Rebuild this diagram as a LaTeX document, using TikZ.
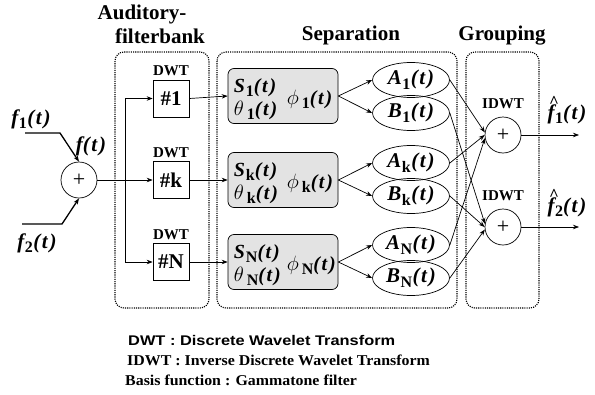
\documentclass[tikz,border=0pt]{standalone}
\usepackage{fontspec}
\setmainfont{Liberation Serif}
\newfontfamily\legsans{Liberation Sans}[FakeStretch=1.17]
\newfontfamily\legserif{Liberation Serif}[FakeStretch=1.06]
\usetikzlibrary{arrows.meta,calc,shapes.geometric}

\newcommand\bi[1]{{\bfseries\itshape #1}}
\newcommand\sub[1]{\raisebox{-0.22em}{\fontsize{16}{16}\selectfont\bfseries\upshape #1}}
\newcommand\argt{\bi{(\kern1.5pt t\kern2pt)}}
\newcommand\sig[2]{\bi{#1}\kern0.5pt\sub{#2}\kern0.5pt\argt}
\newcommand\fhat{\makebox[0pt][l]{\kern1.5pt\raisebox{0.55em}{\fontsize{17}{17}\selectfont\bfseries\textasciicircum}}\bi{f}}

\begin{document}
\begin{tikzpicture}[x=1pt,y=-1pt,
  ln/.style={line width=0.7pt},
  arr/.style={ln,-{Stealth[length=6pt,width=4.5pt]}},
  grp/.style={draw,line width=1.1pt,dash pattern=on 1.1pt off 1.1pt,rounded corners=9pt},
  title/.style={font=\fontsize{21}{24}\selectfont\bfseries,anchor=base,inner sep=0},
  dwtlbl/.style={font=\fontsize{15}{18}\selectfont\bfseries,anchor=base,inner sep=0},
  dwtbox/.style={draw,ln,minimum width=36pt,minimum height=37pt,inner sep=0,font=\fontsize{21}{24}\selectfont\bfseries},
  sbox/.style={draw,ln,fill=black!11,rounded corners=6pt,minimum width=110pt,minimum height=55pt},
  ell/.style={draw,ln,ellipse,minimum width=77pt,minimum height=35pt,inner sep=0,font=\fontsize{21}{24}\selectfont},
  sumc/.style={draw,ln,circle,minimum size=36pt,inner sep=0,font=\fontsize{22}{24}\selectfont},
  sigl/.style={font=\fontsize{21}{24}\selectfont,inner sep=0},
  sin/.style={font=\fontsize{20}{24}\selectfont,inner sep=0,anchor=base west},
  leg/.style={anchor=base west,inner sep=0}]
\useasboundingbox (0,0) rectangle (595,394);

% group frames
\draw[grp] (115,52) rectangle (209,308);
\draw[grp] (217,52) rectangle (457,308);
\draw[grp] (466,52) rectangle (539,308);

% titles
\node[title] (t1) at (142,19) {Auditory-};
\node[title] (t2) at (160,43) {filterbank};
\node[title] (t3) at (351,40) {Separation};
\node[title] (t4) at (502,40) {Grouping};

% input sum
\node[sumc] (sum) at (79,180) {+};
\coordinate (f1a) at (25,133);
\coordinate (f1b) at (60,133);
\coordinate (f2a) at (22,224);
\coordinate (f2b) at (62,224);
\draw[arr,line width=1.3pt] (f1a) -- (f1b) -- (sum.north);
\draw[arr,line width=1.3pt] (f2a) -- (f2b) -- (sum.south);
\node[sigl] (lf1) at (31,119) {\sig{f}{1}};
\node[sigl] (lf2) at (37,243) {\sig{f}{2}};
\node[sigl] (lf) at (91,146) {\bi{f}\argt};

% DWT boxes
\node[dwtbox] (d1) at (171,98.5) {\#1};
\node[dwtbox] (dk) at (171,180) {\#k};
\node[dwtbox] (dN) at (171,262) {\#N};
\node[dwtlbl] (dl1) at ($(d1.north)+(0,-4)$) {DWT};
\node[dwtlbl] (dlk) at ($(dk.north)+(0,-4)$) {DWT};
\node[dwtlbl] (dlN) at ($(dN.north)+(0,-4)$) {DWT};

% trunk
\coordinate (tj) at (125,180);
\coordinate (tt) at (125,98.5);
\coordinate (tb) at (125,262);
\draw[ln] (sum.east) -- (tj);
\draw[ln] (tt) -- (tb);
\draw[arr] (tt) -- (d1.west);
\draw[arr] (tj) -- (dk.west);
\draw[arr] (tb) -- (dN.west);

% separation boxes
\node[sbox] (s1) at (283,96) {};
\node[sbox] (sk) at (283,180) {};
\node[sbox] (sN) at (283,262) {};
\foreach \n/\s in {s1/1,sk/k,sN/N}{
  \node[sin] (\n a) at ($(\n.west)+(6,-4)$) {\bi{S}\kern1pt\sub{\s}\argt};
  \node[sin] (\n b) at ($(\n.west)+(6,19)$) {$\theta$\kern3pt\sub{\s}\argt};
  \node[sin] (\n c) at ($(\n.west)+(59,8)$) {$\phi$\kern3pt\sub{\s}\argt};
}
\draw[arr] (d1.east) -- (s1.west);
\draw[arr] (dk.east) -- (sk.west);
\draw[arr] (dN.east) -- (sN.west);

% ellipses
\node[ell] (A1) at (411,80) {\sig{A}{1}};
\node[ell] (B1) at (411,113) {\sig{B}{1}};
\node[ell] (Ak) at (411,163) {\sig{A}{k}};
\node[ell] (Bk) at (411,196) {\sig{B}{k}};
\node[ell] (AN) at (411,245) {\sig{A}{N}};
\node[ell] (BN) at (411,278) {\sig{B}{N}};
\draw[arr] (s1.east) -- (A1.west);
\draw[arr] (s1.east) -- (B1.west);
\draw[arr] (sk.east) -- (Ak.west);
\draw[arr] (sk.east) -- (Bk.west);
\draw[arr] (sN.east) -- (AN.west);
\draw[arr] (sN.east) -- (BN.west);

% grouping
\node[sumc] (g1) at (503,135) {+};
\node[sumc] (g2) at (503,227) {+};
\node[dwtlbl] (il1) at ($(g1.north)+(0,-8)$) {IDWT};
\node[dwtlbl] (il2) at ($(g2.north)+(0,-8)$) {IDWT};
\draw[arr] (A1.east) -- (g1.172);
\draw[arr] (Ak.east) -- (g1.west);
\draw[arr] (AN.east) -- (g1.190);
\draw[arr] (B1.east) -- (g2.170);
\draw[arr] (Bk.east) -- (g2.west);
\draw[arr] (BN.east) -- (g2.188);
\coordinate (o1) at (579,135);
\coordinate (o2) at (579,227);
\draw[arr] (g1.east) -- (o1);
\draw[arr] (g2.east) -- (o2);
\node[sigl] (h1) at (567,110) {\fhat\kern0.5pt\sub{1}\argt};
\node[sigl] (h2) at (567,203) {\fhat\kern0.5pt\sub{2}\argt};

% legend
\node[leg,font=\fontsize{14}{16}\legsans\bfseries] (lg1) at (128,345) {DWT : Discrete Wavelet Transform};
\node[leg,font=\fontsize{15}{17}\legserif\bfseries] (lg2) at (127,365) {IDWT : Inverse Discrete Wavelet Transform};
\node[leg,font=\fontsize{15}{17}\legserif\bfseries] (lg3) at (125,385) {Basis function : Gammatone filter};
\end{tikzpicture}
\end{document}
